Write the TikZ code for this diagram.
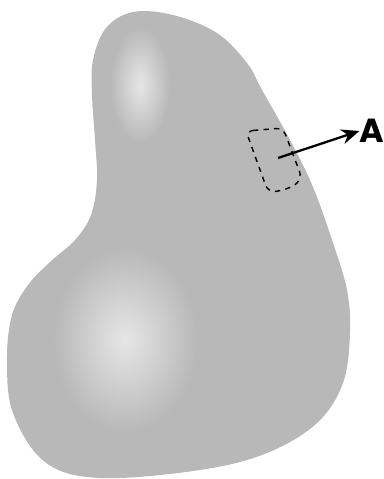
\documentclass[tikz,border=0pt]{standalone}
\usepackage{fontspec}
\setsansfont{Poppins}
\usetikzlibrary{arrows.meta, positioning}
\definecolor{cbody}{HTML}{B8B8B8}
\definecolor{chigh}{HTML}{E6E6E6}
\tikzset{
  every picture/.style={font=\sffamily},
  body/.style={fill=cbody, draw=none},
  glow/.style={inner color=chigh, outer color=cbody, draw=none},
  region/.style={draw=black, dashed, line width=0.8pt, rounded corners=4pt},
  arrow/.style={-{Stealth[length=3.6mm, width=3mm]}, draw=black, line width=1.3pt},
  label/.style={font=\sffamily\bfseries\fontsize{19}{22}\selectfont, inner sep=0pt},
}
\begin{document}
\begin{tikzpicture}[x=0.02cm, y=-0.02cm]
  \useasboundingbox (0,0) rectangle (383,479);
  % the body
  \path[body] plot[smooth cycle, tension=0.6] coordinates {
    (133,12) (173,15) (217,33) (247,63) (262,90) (290,140) (313,187)
    (333,243) (347,290) (350,333) (343,383) (317,423) (267,453) (200,470)
    (100,478) (45,462) (13,413) (7,360) (12,315) (28,285) (50,262)
    (75,240) (91,215) (97,180) (95,140) (92,95) (93,60) (106,28)};
  % soft highlights
  \begin{scope}
    \clip (0,0) rectangle (383,479);
    \shade[glow] (140,85) ellipse (30 and 58);
    \shade[glow] (125,340) ellipse (72 and 92);
  \end{scope}
  % region A
  \draw[region] (246,131) -- (283,128) -- (302,178)
    .. controls (292,188) and (280,191) .. (268,192) -- cycle;
  \coordinate (start) at (278,158);
  \node[label] (A) at (372,131) {A};
  \draw[arrow] (start) -- (A.west);
\end{tikzpicture}
\end{document}
